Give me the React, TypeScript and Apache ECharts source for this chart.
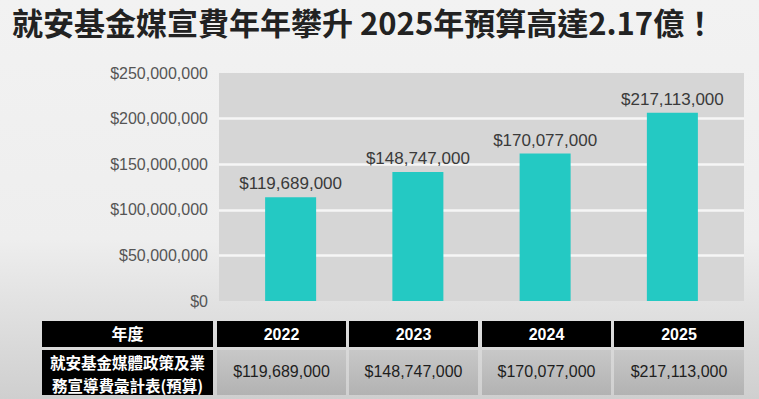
import React, { useEffect, useRef } from "react";
import * as echarts from "echarts";

const title = "就安基金媒宣費年年攀升 2025年預算高達2.17億！";
const years = ["2022", "2023", "2024", "2025"];
const values = [119689000, 148747000, 170077000, 217113000];
const yTicks = [0, 50000000, 100000000, 150000000, 200000000, 250000000];
const tableHeaderLabel = "年度";
const tableRowLabel = ["就安基金媒體政策及業", "務宣導費彙計表(預算)"];

const money = (v: number) => "$" + v.toLocaleString("en-US");

export default function App() {
  const ref = useRef<HTMLDivElement>(null);
  useEffect(() => {
    if (!ref.current) return;
    const chart = echarts.init(ref.current, undefined, { renderer: "svg" });

    const colX = [
      [42, 213],
      [217, 346],
      [349, 478],
      [482, 611],
      [614, 744],
    ];
    const hdrY = [321, 347];
    const rowY = [350, 395];
    const graphics: any[] = [];
    graphics.push({
      type: "text",
      left: 12,
      top: 6,
      style: {
        text: title,
        font: "bold 31px 'Noto Sans CJK TC', sans-serif",
        fill: "#222",
      },
    });
    // header row
    colX.forEach((c, i) => {
      graphics.push({
        type: "rect",
        shape: { x: c[0], y: hdrY[0], width: c[1] - c[0], height: hdrY[1] - hdrY[0] },
        style: { fill: "#000" },
      });
      graphics.push({
        type: "text",
        x: (c[0] + c[1]) / 2,
        y: (hdrY[0] + hdrY[1]) / 2,
        style: {
          text: i === 0 ? tableHeaderLabel : years[i - 1],
          font: "bold 16px 'Liberation Sans', 'Noto Sans CJK TC', sans-serif",
          fill: "#fff",
          align: "center",
          verticalAlign: "middle",
        },
      });
    });
    // data row
    colX.forEach((c, i) => {
      graphics.push({
        type: "rect",
        shape: { x: c[0], y: rowY[0], width: c[1] - c[0], height: rowY[1] - rowY[0] },
        style: {
          fill:
            i === 0
              ? "#000"
              : new echarts.graphic.LinearGradient(0, 0, 0, 1, [
                  { offset: 0, color: "#c8c8c8" },
                  { offset: 1, color: "#b2b2b2" },
                ]),
        },
      });
      if (i === 0) {
        tableRowLabel.forEach((t, k) => {
          graphics.push({
            type: "text",
            x: (c[0] + c[1]) / 2,
            y: 361.5 + k * 23,
            style: {
              text: t,
              font: "bold 15.5px 'Noto Sans CJK TC', sans-serif",
              fill: "#fff",
              align: "center",
              verticalAlign: "middle",
            },
          });
        });
      } else {
        graphics.push({
          type: "text",
          x: (c[0] + c[1]) / 2,
          y: (rowY[0] + rowY[1]) / 2 - 1,
          style: {
            text: money(values[i - 1]),
            font: "16px 'Liberation Sans', sans-serif",
            fill: "#1e1e1e",
            align: "center",
            verticalAlign: "middle",
          },
        });
      }
    });

    chart.setOption({
      animation: false,
      backgroundColor: new echarts.graphic.LinearGradient(0, 0, 0, 1, [
        { offset: 0, color: "#f2f2f2" },
        { offset: 0.6, color: "#eeeeee" },
        { offset: 1, color: "#cfcfcf" },
      ]),
      grid: [
        {
          left: 219,
          top: 73,
          width: 525,
          height: 228,
          show: true,
          backgroundColor: "#d6d6d6",
          borderWidth: 0,
        },
        { left: 227, top: 73, width: 509, height: 228 },
      ],
      xAxis: [
        { type: "category", gridIndex: 0, data: years, show: false },
        { type: "category", gridIndex: 1, data: years, show: false },
      ],
      yAxis: [
        {
          type: "value",
          gridIndex: 0,
          min: yTicks[0],
          max: yTicks[yTicks.length - 1],
          interval: yTicks[1] - yTicks[0],
          axisLine: { show: false },
          axisTick: { show: false },
          axisLabel: {
            formatter: (v: number) => money(v),
            color: "#555",
            fontSize: 16,
            fontFamily: "'Liberation Sans', sans-serif",
            margin: 11,
          },
          splitLine: {
            show: true,
            showMinLine: false,
            showMaxLine: false,
            lineStyle: { color: "#f6f6f6", width: 2.5 },
          },
        },
        {
          type: "value",
          gridIndex: 1,
          min: 0,
          max: 263000000,
          show: false,
          splitLine: { show: false },
        },
      ],
      series: [
        {
          type: "bar",
          xAxisIndex: 1,
          yAxisIndex: 1,
          data: values,
          barWidth: 51,
          itemStyle: { color: "#24c9c3" },
          label: {
            show: true,
            position: "top",
            distance: 5,
            formatter: (p: any) => money(p.value),
            color: "#3a3a3a",
            fontSize: 17,
            fontFamily: "'Liberation Sans', sans-serif",
          },
        },
      ],
      graphic: graphics,
    });
    return () => chart.dispose();
  }, []);
  return (
    <div
      ref={ref}
      style={{ position: "absolute", left: 0, top: 0, width: 759, height: 399 }}
    />
  );
}
